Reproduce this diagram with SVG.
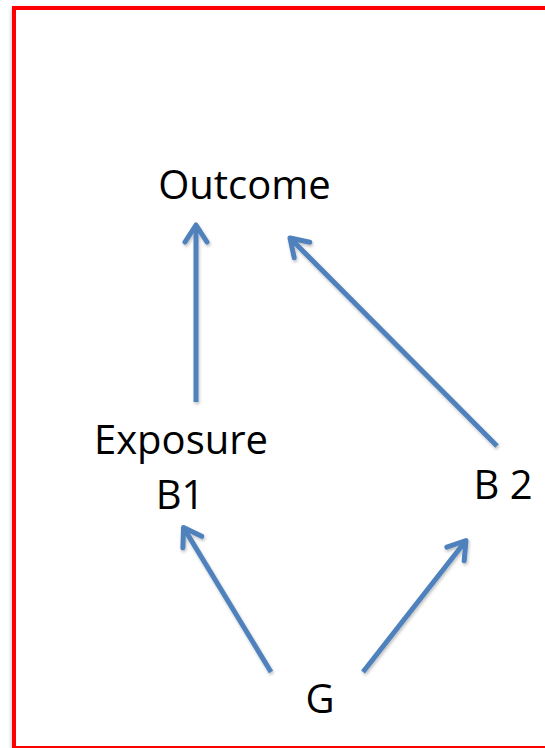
<svg xmlns="http://www.w3.org/2000/svg" width="545" height="748" viewBox="0 0 545 748">
  <style>
    .lbl { font-family: "Open Sans", "Liberation Sans", sans-serif; font-size: 40px; fill: #000; text-anchor: middle; }
    .edge { stroke: #4F81BD; stroke-width: 5; fill: none; marker-end: url(#arrow); }
  </style>
  <defs>
    <filter id="sh" x="-5%" y="-5%" width="110%" height="110%">
      <feGaussianBlur stdDeviation="2"/>
    </filter>
    <filter id="ash" x="-20%" y="-20%" width="140%" height="140%">
      <feDropShadow dx="1" dy="2" stdDeviation="1.5" flood-color="#000" flood-opacity="0.25"/>
    </filter>
    <marker id="arrow" markerUnits="userSpaceOnUse" viewBox="-24 -16 30 32" markerWidth="30" markerHeight="32" refX="0" refY="0" orient="auto" overflow="visible">
      <path d="M-17,-11 L0,0 L-17,11" fill="none" stroke="#4F81BD" stroke-width="5" stroke-linecap="round" stroke-linejoin="round"/>
    </marker>
  </defs>
  <rect x="0" y="0" width="545" height="748" fill="#fff"/>
  <g id="frame">
    <rect x="14" y="10" width="540" height="740" fill="none" stroke="#888" stroke-width="4" filter="url(#sh)" opacity="0.6"/>
    <rect x="14" y="8" width="540" height="740" fill="#fff" stroke="#FF0000" stroke-width="4"/>
  </g>
  <g id="connectors" filter="url(#ash)">
    <line class="edge" x1="196" y1="402" x2="196" y2="225"/>
    <line class="edge" x1="497" y1="446" x2="290" y2="238"/>
    <line class="edge" x1="271" y1="672" x2="183.5" y2="527.5"/>
    <line class="edge" x1="363" y1="672" x2="466" y2="540.5"/>
  </g>
  <g id="outcome"><text class="lbl" x="244.5" y="199">Outcome</text></g>
  <g id="exposure"><text class="lbl" x="181" y="454">Exposure</text><text class="lbl" x="180" y="509">B1</text></g>
  <g id="b2"><text class="lbl" x="503" y="499">B 2</text></g>
  <g id="g"><text class="lbl" x="320" y="713">G</text></g>
</svg>
